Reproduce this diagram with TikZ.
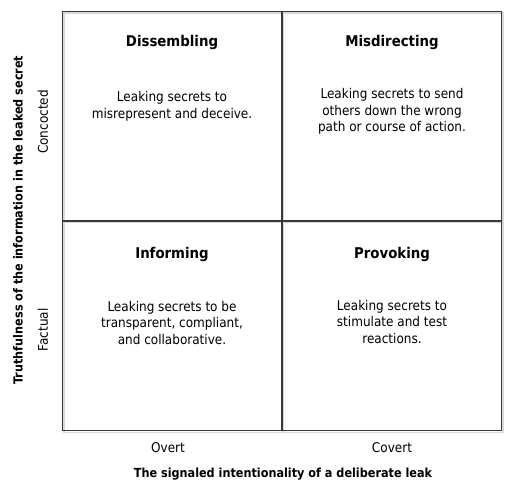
\documentclass[tikz,border=0pt]{standalone}
\usepackage{fontspec}
\setmainfont{DejaVu Sans Condensed}
\usetikzlibrary{positioning}

\begin{document}
\begin{tikzpicture}[x=1pt,y=-1pt,
  quad/.style={rectangle,draw=black!78,line width=1.3pt,minimum width=219pt,minimum height=209.5pt,inner sep=0pt},
  shadowline/.style={draw=black!15,line width=1.6pt},
  head/.style={font=\fontsize{14.8}{17}\selectfont\bfseries},
  body/.style={align=center,font=\fontsize{13.4}{16.5}\selectfont},
  level/.style={font=\fontsize{13.4}{16}\selectfont},
  axislabel/.style={font=\fontsize{12.5}{15}\selectfont\bfseries}]
\useasboundingbox (0,0) rectangle (514,492);
% faint shadow of the grid
\begin{scope}[shift={(1.5,1.5)}]
\draw[shadowline] (62.7,11.7) rectangle (501.7,431);
\draw[shadowline] (281.7,11.7) -- (281.7,431);
\draw[shadowline] (62.7,221) -- (501.7,221);
\end{scope}
% quadrants
\node[quad] (dis) at (172.2,116.3) {};
\node[quad] (mis) at (391.7,116.3) {};
\node[quad] (inf) at (172.2,326) {};
\node[quad] (pro) at (391.7,326) {};
% headings
\node[head] (disT) at (172,42) {Dissembling};
\node[head] (misT) at (392,42) {Misdirecting};
\node[head] (infT) at (172,254) {Informing};
\node[head] (proT) at (392,254) {Provoking};
% descriptions
\node[body] (disB) at (172,106.5) {Leaking secrets to\\misrepresent and deceive.};
\node[body] (misB) at (392,111.5) {Leaking secrets to send\\others down the wrong\\path or course of action.};
\node[body] (infB) at (172,323) {Leaking secrets to be\\transparent, compliant,\\and collaborative.};
\node[body] (proB) at (392,322) {Leaking secrets to\\stimulate and test\\reactions.};
% axes
\node[level] (overt) at (168,448) {Overt};
\node[level] (covert) at (392,448) {Covert};
\node[axislabel] (xlab) at (283,474) {The signaled intentionality of a deliberate leak};
\node[level,rotate=90] (conc) at (43,122) {Concocted};
\node[level,rotate=90] (fact) at (43,330) {Factual};
\node[axislabel,rotate=90] (ylab) at (18,220) {Truthfulness of the information in the leaked secret};
\end{tikzpicture}
\end{document}
